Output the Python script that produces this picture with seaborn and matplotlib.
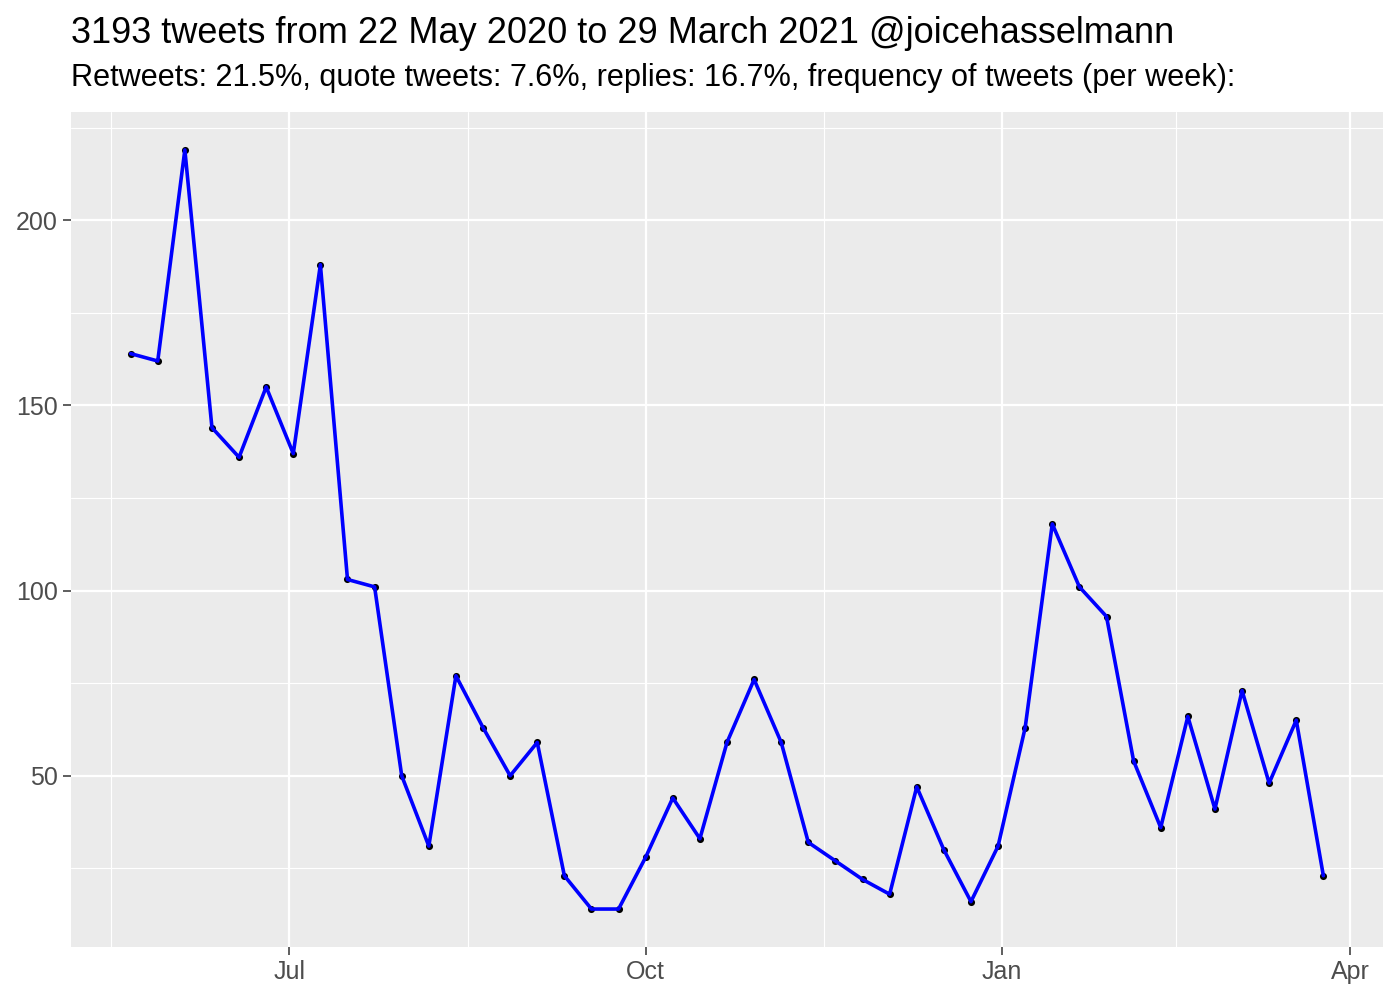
import matplotlib
matplotlib.use("Agg")
import matplotlib.pyplot as plt
import matplotlib.dates as mdates
import seaborn as sns
import pandas as pd
import numpy as np

# ---- data ----
start_date = "2020-05-21"
tweets_per_week = [164, 162, 219, 144, 136, 155, 137, 188, 103, 101,
                   50, 31, 77, 63, 50, 59, 23, 14, 14, 28,
                   44, 33, 59, 76, 59, 32, 27, 22, 18, 47,
                   30, 16, 31, 63, 118, 101, 93, 54, 36, 66,
                   41, 73, 48, 65, 23]
x_tick_dates = ["2020-07-01", "2020-10-01", "2021-01-01", "2021-04-01"]
x_tick_labels = ["Jul", "Oct", "Jan", "Apr"]
y_ticks = [50, 100, 150, 200]
title = "3193 tweets from 22 May 2020 to 29 March 2021 @joicehasselmann"
subtitle = "Retweets: 21.5%, quote tweets: 7.6%, replies: 16.7%, frequency of tweets (per week):"

weeks = pd.date_range(start_date, periods=len(tweets_per_week), freq="7D")
df = pd.DataFrame({"week": weeks, "n": tweets_per_week})

sns.set_theme(style="darkgrid")
plt.rcParams["font.family"] = ["Liberation Sans", "DejaVu Sans"]

fig = plt.figure(figsize=(14, 10), dpi=100)
ax = fig.add_axes([71 / 1400, 1 - 947 / 1000, (1383 - 71) / 1400, (947 - 112) / 1000])
ax.set_facecolor("#EBEBEB")

sns.scatterplot(data=df, x="week", y="n", ax=ax, color="black", s=26,
                edgecolor="black", linewidth=0, zorder=3)
sns.lineplot(data=df, x="week", y="n", ax=ax, color="blue", linewidth=2.6, zorder=4)

# limits with ggplot-like 5% expansion
xnum = mdates.date2num(df["week"])
xr = xnum.max() - xnum.min()
ax.set_xlim(xnum.min() - 0.05 * xr, xnum.max() + 0.05 * xr)
yr = max(tweets_per_week) - min(tweets_per_week)
ax.set_ylim(min(tweets_per_week) - 0.05 * yr, max(tweets_per_week) + 0.05 * yr)

# major ticks
maj = mdates.date2num(pd.to_datetime(x_tick_dates))
ax.set_xticks(maj)
ax.set_xticklabels(x_tick_labels)
ax.set_yticks(y_ticks)
ax.set_yticklabels([str(v) for v in y_ticks])

# minor ticks (midpoints)
prev = mdates.date2num(pd.Timestamp("2020-03-31"))
allmaj = np.concatenate([[prev], maj])
xminor = (allmaj[:-1] + allmaj[1:]) / 2
ax.set_xticks(xminor, minor=True)
ax.set_yticks([25, 75, 125, 175, 225], minor=True)

ax.grid(False)
ax.grid(which="major", color="white", linewidth=1.6)
ax.grid(which="minor", color="white", linewidth=0.8)
ax.set_axisbelow(True)
for s in ax.spines.values():
    s.set_visible(False)

ax.tick_params(which="major", length=5.5, width=1.1, color="#333333",
               labelsize=18, labelcolor="#4D4D4D", pad=4,
               bottom=True, left=True)
ax.tick_params(which="minor", length=0)
ax.set_xlabel("")
ax.set_ylabel("")

fig.text(71 / 1400, 1 - 43 / 1000, title, fontsize=26, color="black", va="baseline", ha="left")
fig.text(71 / 1400, 1 - 86 / 1000, subtitle, fontsize=22.1, color="black", va="baseline", ha="left")

fig.savefig("out.png", dpi=100, facecolor="white")
